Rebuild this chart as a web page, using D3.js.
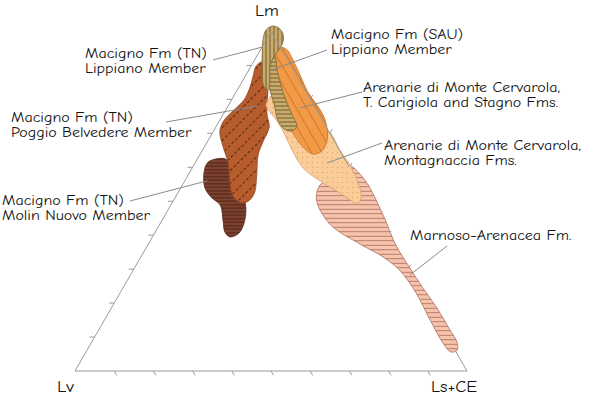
<!DOCTYPE html>
<html><head><meta charset="utf-8">
<script src="https://cdn.jsdelivr.net/npm/d3@7"></script>
<style>body{margin:0;background:#fff}svg{display:block}</style>
</head><body>
<svg id="chart" width="600" height="395"></svg>
<script>
// ---------- DATA (ternary compositions: [Lm, Lv, Ls+CE] in %) ----------
const vertexNames = ["Lm", "Lv", "Ls+CE"];
const tickValues = [10, 20, 30, 40, 50, 60, 70, 80, 90];

const marnosoArenacea = [[60.4,-0.4,40.0],[58.0,-1.7,43.7],[54.8,-2.2,47.4],[50.4,-2.0,51.6],[44.5,-1.4,56.9],[37.1,-0.4,63.3],[30.3,-0.6,70.3],[24.4,-1.0,76.6],[18.6,-1.6,83.0],[12.1,-1.7,89.6],[8.5,-1.7,93.2],[6.2,-0.6,94.4],[5.6,1.3,93.1],[8.2,2.0,89.8],[15.0,1.9,83.1],[23.0,1.5,75.5],[29.5,2.3,68.2],[33.6,4.6,61.8],[37.4,8.6,54.0],[42.4,13.0,44.6],[47.4,13.8,38.8],[51.3,12.8,35.9],[54.8,10.1,35.1],[56.6,6.6,36.8],[58.6,3.1,38.3]];
const molinNuovo = [[61.9,34.6,3.5],[62.4,30.3,7.3],[59.2,30.3,10.5],[54.8,31.0,14.2],[51.0,31.4,17.6],[47.4,32.7,19.9],[43.3,35.3,21.4],[40.6,37.9,21.5],[39.5,40.7,19.8],[40.9,41.3,17.8],[44.5,40.0,15.5],[48.9,38.5,12.6],[51.0,39.6,9.4],[53.9,39.9,6.2],[57.7,38.3,4.0],[60.7,36.2,3.1]];
const poggioBelvedere = [[89.8,8.9,1.3],[91.0,6.8,2.2],[87.2,7.7,5.1],[82.2,9.7,8.1],[78.9,11.6,9.5],[75.4,13.3,11.3],[71.9,14.5,13.6],[67.5,18.3,14.2],[63.6,21.5,14.9],[57.7,24.8,17.5],[52.7,27.8,19.5],[50.4,30.2,19.4],[49.5,32.6,17.9],[51.3,34.0,14.7],[55.4,32.8,11.8],[61.3,30.3,8.4],[66.0,29.2,4.8],[70.1,28.0,1.9],[72.8,26.1,1.1],[75.1,23.5,1.4],[77.5,20.1,2.4],[79.8,17.0,3.2],[83.4,13.7,2.9],[86.9,11.1,2.0]];
const montagnaccia = [[79.8,10.9,9.3],[81.3,8.8,9.9],[79.8,7.8,12.4],[76.9,4.1,19.0],[73.3,0.9,25.8],[69.5,-0.3,30.8],[65.1,-0.1,35.0],[60.7,-0.5,39.8],[56.3,-0.1,43.8],[51.8,1.1,47.1],[49.2,3.2,47.6],[50.4,4.6,45.0],[53.3,7.0,39.7],[56.3,9.8,33.9],[59.8,11.9,28.3],[65.1,12.1,22.8],[69.5,11.7,18.8],[73.3,11.6,15.1],[76.3,12.1,11.6],[78.1,12.2,9.7]];
const carigiolaStagno = [[95.4,0.0,4.6],[94.6,-1.4,6.8],[91.6,-1.4,9.8],[87.2,-1.0,13.8],[82.2,-0.5,18.3],[78.4,-0.9,22.5],[75.4,-1.0,25.6],[71.6,-0.1,28.5],[68.0,1.7,30.3],[64.8,4.6,30.6],[63.9,7.4,28.7],[65.7,8.7,25.6],[68.6,9.3,22.1],[72.5,9.4,18.1],[76.3,9.0,14.7],[81.3,7.5,11.2],[85.7,6.2,8.1],[90.1,4.2,5.7],[93.7,1.9,4.4]];
const sauLippiano = [[91.0,6.3,2.7],[93.1,3.7,3.2],[92.5,2.7,4.8],[88.7,4.1,7.2],[84.2,5.4,10.4],[79.8,6.3,13.9],[75.4,6.9,17.7],[72.2,7.3,20.5],[70.7,9.3,20.0],[71.3,11.0,17.7],[73.9,11.3,14.8],[78.4,10.0,11.6],[82.8,8.9,8.3],[87.2,7.4,5.4]];
const tnLippiano = [[101.6,-1.1,-0.5],[101.0,-2.5,1.5],[99.3,-2.7,3.4],[96.9,-1.5,4.6],[94.6,0.7,4.7],[92.2,3.4,4.4],[89.2,5.7,5.1],[85.7,7.4,6.9],[82.8,9.4,7.8],[83.9,9.9,6.2],[88.7,7.9,3.4],[93.1,5.7,1.2],[97.5,3.3,-0.8],[100.4,1.1,-1.5]];

const fieldLabels = [
  ["Macigno Fm (TN)", "Lippiano Member"],
  ["Macigno Fm (SAU)", "Lippiano Member"],
  ["Macigno Fm (TN)", "Poggio Belvedere Member"],
  ["Macigno Fm (TN)", "Molin Nuovo Member"],
  ["Arenarie di Monte Cervarola,", "T. Carigiola and Stagno Fms."],
  ["Arenarie di Monte Cervarola,", "Montagnaccia Fms."],
  ["Marnoso-Arenacea Fm."]
];
// point each label's leader line reaches, [Lm, Lv, Ls+CE]
const leaderTargets = [[95.4,4.6,0.0],[88.7,5.4,5.9],[78.1,14.2,7.7],[56.0,38.3,5.7],[77.5,3.8,18.7],[61.3,5.0,33.7],[28.3,0.4,71.3]];

// ---------- LAYOUT ----------
const svg = d3.select("#chart");
const xs = d3.scaleLinear().domain([0, 100]).range([75, 467]);
const ys = d3.scaleLinear().domain([0, 100]).range([371, 31.5]);
const proj = ([m, v, s]) => [xs(s + m / 2), ys(m)];
const closed = d3.line().curve(d3.curveCatmullRomClosed.alpha(0.5));
const FONT = "'Comic Sans MS','Comic Neue','DejaVu Sans',sans-serif";
const STRETCH = 1.23;

const defs = svg.append("defs");
function stripes(id, bg, fg, size, angle, sw, dash) {
  const h = dash ? 5 : size;
  const p = defs.append("pattern").attr("id", id).attr("patternUnits", "userSpaceOnUse")
    .attr("width", size).attr("height", h).attr("patternTransform", `rotate(${angle})`);
  p.append("rect").attr("width", size).attr("height", h).attr("fill", bg);
  const l = p.append("line").attr("x1", size / 2).attr("x2", size / 2).attr("y1", 0).attr("y2", h)
    .attr("stroke", fg).attr("stroke-width", sw);
  if (dash) l.attr("stroke-dasharray", dash);
}
stripes("pTN", "#C9AC6E", "#6F5B2A", 4, 0, 1);
stripes("pSAU", "#C9AC6E", "#6F5B2A", 4, 90, 1);
stripes("pOr", "#F29A45", "#C8702A", 9, -30, 0.8);
stripes("pPog", "#B75D2D", "#5A2810", 9, 45, 1, "3 2");
stripes("pMol", "#7E4230", "#4A2114", 3.5, 90, 1);
stripes("pMar", "#F6C3AC", "#B27463", 4.5, 90, 0.9);
const dp = defs.append("pattern").attr("id", "pMon").attr("patternUnits", "userSpaceOnUse").attr("width", 5).attr("height", 5);
dp.append("rect").attr("width", 5).attr("height", 5).attr("fill", "#F9CC98");
dp.append("circle").attr("cx", 2.5).attr("cy", 2.5).attr("r", 0.6).attr("fill", "#D39A60");

const mask = defs.append("mask").attr("id", "noMar");
mask.append("rect").attr("width", 600).attr("height", 395).attr("fill", "#fff");
mask.append("path").attr("d", closed(marnosoArenacea.map(proj))).attr("fill", "#000");

const corners = [[100, 0, 0], [0, 100, 0], [0, 0, 100]].map(proj);
const edgePath = "M" + corners.join("L") + "Z";

const fields = [
  {d: marnosoArenacea, fill: "url(#pMar)", stroke: "#A87060"},
  {d: molinNuovo, fill: "url(#pMol)", stroke: "#55281A"},
  {d: poggioBelvedere, fill: "url(#pPog)", stroke: "#8A4520"},
  {d: montagnaccia, fill: "url(#pMon)", stroke: "#D8A070"},
  {d: carigiolaStagno, fill: "url(#pOr)", stroke: "#C8702A"},
  {d: sauLippiano, fill: "url(#pSAU)", stroke: "#7A6A3A"},
  {d: tnLippiano, fill: "url(#pTN)", stroke: "#7A6A3A"}
];
svg.append("g").selectAll("path").data(fields).join("path")
  .attr("d", f => closed(f.d.map(proj)))
  .attr("fill", f => f.fill).attr("stroke", f => f.stroke).attr("stroke-width", 0.8);

// triangle + ticks on top (hidden beneath the Marnoso field)
const frame = svg.append("g").attr("mask", "url(#noMar)").attr("stroke", "#9A9A9A").attr("fill", "none");
frame.append("path").attr("d", edgePath).attr("stroke-width", 1);
const tl = 5;
tickValues.forEach(t => {
  const b = proj([0, 100 - t, t]);
  frame.append("line").attr("x1", b[0]).attr("y1", b[1]).attr("x2", b[0] + tl * 0.5).attr("y2", b[1] + tl * 0.866);
  const l = proj([t, 100 - t, 0]);
  frame.append("line").attr("x1", l[0]).attr("y1", l[1]).attr("x2", l[0] - tl).attr("y2", l[1]);
  const r = proj([t, 0, 100 - t]);
  frame.append("line").attr("x1", r[0]).attr("y1", r[1]).attr("x2", r[0] + tl * 0.5).attr("y2", r[1] - tl * 0.866);
});

function stretchText(sel, k) {
  const w = sel.node().getComputedTextLength();
  sel.attr("textLength", w * k).attr("lengthAdjust", "spacingAndGlyphs");
}

// labels
const labelPos = [
  {x: 85, y: 58, lx: 213, ly: 60},
  {x: 331, y: 39, lx: 327, ly: 50},
  {x: 11, y: 122, lx: 166, ly: 122},
  {x: 2, y: 205, lx: 130, ly: 201},
  {x: 363, y: 92, lx: 362, ly: 92},
  {x: 384, y: 150, lx: 382, ly: 143},
  {x: 410, y: 240, lx: 447, ly: 246}
];
const lg = svg.append("g");
fieldLabels.forEach((lines, i) => {
  const p = labelPos[i], e = proj(leaderTargets[i]);
  lg.append("line").attr("x1", p.lx).attr("y1", p.ly).attr("x2", e[0]).attr("y2", e[1])
    .attr("stroke", "#8A8A8A").attr("stroke-width", 1);
  lines.forEach((s, j) => {
    const t = lg.append("text").attr("x", p.x).attr("y", p.y + j * 15)
      .attr("font-family", FONT).attr("font-size", 13).attr("fill", "#111").text(s);
    stretchText(t, STRETCH);
  });
});

// vertex labels
const vpos = [{x: 255, y: 16, fs: 16}, {x: 57, y: 392, fs: 16.5}, {x: 431, y: 392, fs: 16}];
vertexNames.forEach((n, i) => {
  const t = svg.append("text").attr("x", vpos[i].x).attr("y", vpos[i].y)
    .attr("font-family", FONT).attr("font-size", vpos[i].fs).attr("fill", "#111").text(n);
  stretchText(t, 1.12);
});
</script>
</body></html>
